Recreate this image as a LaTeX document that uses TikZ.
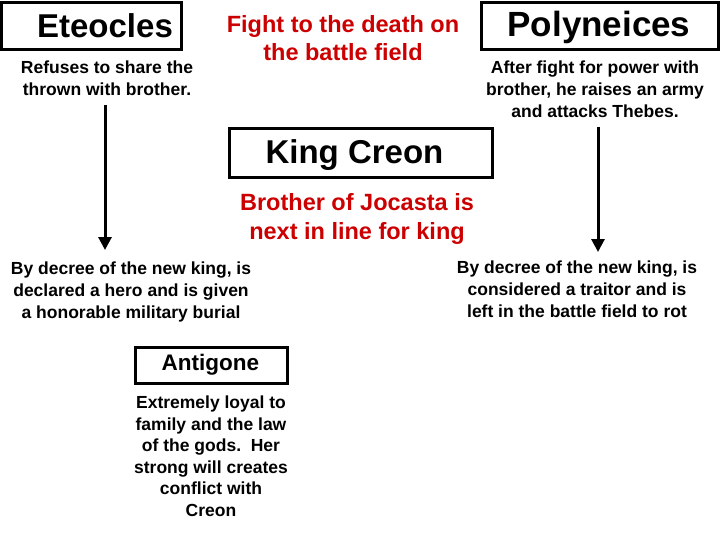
\documentclass[tikz,border=0pt]{standalone}
\usepackage{fontspec}
\setmainfont{Liberation Sans}
\usetikzlibrary{arrows.meta}
\begin{document}
\begin{tikzpicture}[x=1pt,y=-1pt,
 bx/.style={draw,line width=3pt,inner sep=0pt},
 sm/.style={align=center,font=\bfseries\fontsize{17.5}{22}\selectfont},
 red/.style={text={rgb,255:red,204;green,0;blue,0}},
 arr/.style={line width=3pt,-{Triangle[length=13pt,width=13pt]}}]
\useasboundingbox (0,0) rectangle (720,540);
\draw[bx] (1,3) rectangle (181,50); \node[font=\bfseries\fontsize{33}{36}\selectfont] (ete) at (105,26) {Eteocles};
\draw[bx] (481,3) rectangle (718,50); \node[font=\bfseries\fontsize{35}{38}\selectfont] (pol) at (599,27) {Polyneices};
\draw[bx] (229,129) rectangle (492,178); \node[font=\bfseries\fontsize{33}{36}\selectfont,anchor=west] (cre) at (262,155) {King Creon};
\draw[bx] (135,347) rectangle (287,383); \node[font=\bfseries\fontsize{22.5}{26}\selectfont,anchor=west] (ant) at (158,365) {Antigone};
\node[sm] (t1) at (107,78) {Refuses to share the\\thrown with brother.};
\node[sm] (t2) at (595,89) {After fight for power with\\brother, he raises an army\\and attacks Thebes.};
\node[red,align=center,font=\bfseries\fontsize{23.5}{28}\selectfont] (f) at (343,38) {Fight to the death on\\the battle field};
\node[red,align=center,font=\bfseries\fontsize{23.5}{29}\selectfont] (b) at (357,219) {Brother of Jocasta is\\next in line for king};
\node[sm] (t3) at (131,292) {By decree of the new king, is\\declared a hero and is given\\a honorable military burial};
\node[sm] (t4) at (577,289) {By decree of the new king, is\\considered a traitor and is\\left in the battle field to rot};
\node[sm,font=\bfseries\fontsize{17.5}{21.5}\selectfont] (t5) at (211,456) {Extremely loyal to\\family and the law\\of the gods.\ \ Her\\strong will creates\\conflict with\\Creon};
\coordinate (a1) at (105,105); \coordinate (a2) at (105,250);
\coordinate (b1) at (598,127); \coordinate (b2) at (598,252);
\draw[arr] (a1) -- (a2);
\draw[arr] (b1) -- (b2);
\end{tikzpicture}
\end{document}
